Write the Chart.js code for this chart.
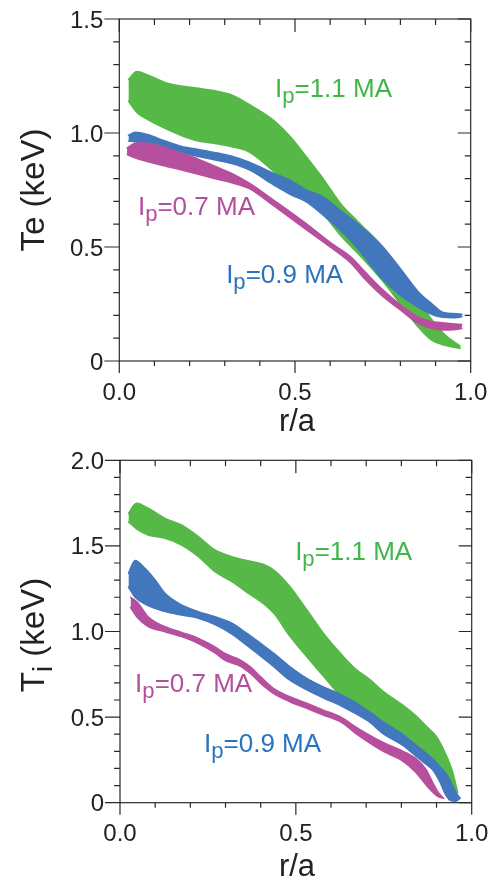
<!DOCTYPE html>
<html>
<head>
<meta charset="utf-8">
<script src="https://cdn.jsdelivr.net/npm/chart.js@4"></script>
<style>
  html, body { margin: 0; padding: 0; background: #fff; }
  #wrap { position: relative; width: 493px; height: 880px; }
  .panel { position: absolute; left: 0; width: 493px; height: 440px; }
</style>
</head>
<body>
<div id="wrap">
  <div class="panel" style="top:0"><canvas id="te" width="493" height="440"></canvas></div>
  <div class="panel" style="top:440px"><canvas id="ti" width="493" height="440"></canvas></div>
</div>
<script>
const GREEN = 'rgb(86, 185, 71)'
const BLUE = 'rgb(67, 119, 189)'
const MAGENTA = 'rgb(182, 80, 158)'

// Te bands (keV) vs r/a
const teR11 = [0.026, 0.05, 0.08, 0.13, 0.18, 0.225, 0.27, 0.32, 0.37, 0.44, 0.49, 0.53, 0.58, 0.63, 0.68, 0.75, 0.80, 0.85, 0.89, 0.93, 0.97]
const teHi11 = [1.235, 1.27, 1.255, 1.222, 1.205, 1.196, 1.186, 1.167, 1.125, 1.055, 0.978, 0.90, 0.80, 0.69, 0.61, 0.50, 0.39, 0.27, 0.18, 0.11, 0.065]
const teLo11 = [1.14, 1.09, 1.06, 1.02, 0.987, 0.965, 0.955, 0.94, 0.916, 0.83, 0.76, 0.71, 0.645, 0.55, 0.47, 0.35, 0.25, 0.15, 0.09, 0.068, 0.055]

const teR09 = [0.026, 0.045, 0.08, 0.13, 0.18, 0.225, 0.27, 0.32, 0.37, 0.44, 0.49, 0.53, 0.58, 0.63, 0.68, 0.75, 0.80, 0.85, 0.89, 0.92, 0.95, 0.975]
const teHi09 = [0.99, 1.003, 0.993, 0.965, 0.94, 0.928, 0.915, 0.898, 0.872, 0.823, 0.79, 0.752, 0.72, 0.66, 0.60, 0.50, 0.405, 0.305, 0.25, 0.214, 0.208, 0.205]
const teLo09 = [0.965, 0.962, 0.952, 0.93, 0.912, 0.897, 0.883, 0.866, 0.838, 0.772, 0.728, 0.70, 0.64, 0.572, 0.49, 0.357, 0.288, 0.236, 0.204, 0.192, 0.19, 0.194]

const teR07 = [0.022, 0.05, 0.08, 0.13, 0.18, 0.225, 0.27, 0.32, 0.37, 0.44, 0.53, 0.60, 0.66, 0.70, 0.75, 0.80, 0.85, 0.89, 0.94, 0.975]
const teHi07 = [0.935, 0.957, 0.955, 0.937, 0.91, 0.885, 0.855, 0.823, 0.78, 0.705, 0.605, 0.52, 0.455, 0.39, 0.312, 0.246, 0.193, 0.173, 0.165, 0.16]
const teLo07 = [0.905, 0.888, 0.875, 0.855, 0.837, 0.819, 0.80, 0.782, 0.756, 0.68, 0.578, 0.50, 0.428, 0.357, 0.283, 0.224, 0.165, 0.143, 0.136, 0.142]

// Ti bands (keV) vs r/a
const tiR11 = [0.024, 0.047, 0.08, 0.128, 0.175, 0.223, 0.27, 0.318, 0.36, 0.41, 0.44, 0.48, 0.53, 0.58, 0.63, 0.67, 0.71, 0.75, 0.80, 0.84, 0.87, 0.90, 0.925, 0.945, 0.96]
const tiHi11 = [1.69, 1.749, 1.72, 1.661, 1.622, 1.554, 1.476, 1.437, 1.415, 1.39, 1.355, 1.27, 1.13, 0.985, 0.865, 0.78, 0.72, 0.648, 0.576, 0.51, 0.448, 0.386, 0.289, 0.185, 0.06]
const tiLo11 = [1.64, 1.60, 1.564, 1.544, 1.505, 1.437, 1.349, 1.291, 1.23, 1.16, 1.10, 0.98, 0.855, 0.735, 0.62, 0.57, 0.52, 0.44, 0.38, 0.32, 0.26, 0.20, 0.13, 0.07, 0.03]

const tiR09 = [0.024, 0.043, 0.071, 0.10, 0.128, 0.175, 0.223, 0.27, 0.318, 0.36, 0.41, 0.44, 0.48, 0.53, 0.58, 0.63, 0.67, 0.71, 0.75, 0.80, 0.84, 0.87, 0.89, 0.91, 0.925, 0.94, 0.955, 0.967]
const tiHi09 = [1.34, 1.414, 1.369, 1.301, 1.223, 1.155, 1.116, 1.086, 1.048, 0.99, 0.915, 0.868, 0.80, 0.728, 0.675, 0.63, 0.585, 0.53, 0.47, 0.405, 0.34, 0.29, 0.255, 0.21, 0.175, 0.125, 0.06, 0.026]
const tiLo09 = [1.26, 1.20, 1.16, 1.135, 1.116, 1.096, 1.077, 1.04, 0.985, 0.92, 0.84, 0.79, 0.72, 0.66, 0.61, 0.565, 0.52, 0.47, 0.40, 0.34, 0.275, 0.225, 0.19, 0.12, 0.05, 0.012, 0.008, 0.026]

const tiR07 = [0.03, 0.05, 0.08, 0.128, 0.175, 0.223, 0.27, 0.30, 0.34, 0.37, 0.40, 0.436, 0.483, 0.531, 0.578, 0.626, 0.68, 0.75, 0.80, 0.84, 0.87, 0.89, 0.905, 0.92]
const tiHi07 = [1.20, 1.17, 1.086, 1.028, 0.995, 0.96, 0.91, 0.87, 0.836, 0.795, 0.735, 0.668, 0.619, 0.581, 0.541, 0.502, 0.43, 0.35, 0.305, 0.26, 0.195, 0.115, 0.06, 0.026]
const tiLo07 = [1.14, 1.08, 1.028, 0.999, 0.97, 0.93, 0.875, 0.83, 0.80, 0.756, 0.697, 0.639, 0.59, 0.551, 0.512, 0.473, 0.39, 0.298, 0.249, 0.18, 0.105, 0.06, 0.035, 0.026]

const FONT = '"Liberation Sans", Arial, Helvetica, sans-serif'
Chart.defaults.font.family = FONT

function pts(r, v) {
  return r.map((x, i) => ({x: x, y: v[i]}))
}

// upper edge fills down to the lower edge (next dataset)
function band(r, hi, lo, color) {
  const base = {
    borderColor: color,
    backgroundColor: color,
    borderWidth: 1.5,
    pointRadius: 0,
    cubicInterpolationMode: 'monotone',
    borderCapStyle: 'round',
    borderJoinStyle: 'round'
  }
  return [
    Object.assign({}, base, {data: pts(r, hi), fill: '+1'}),
    Object.assign({}, base, {data: pts(r, lo), fill: false})
  ]
}

function drawRich(ctx, parts, x, y, size, color, rot, align) {
  ctx.save()
  ctx.translate(x, y)
  if (rot) ctx.rotate(rot)
  ctx.fillStyle = color
  ctx.textBaseline = 'alphabetic'
  ctx.textAlign = 'left'
  let total = 0
  for (const p of parts) {
    ctx.font = (p.sub ? size * 0.85 : size) + 'px ' + FONT
    total += ctx.measureText(p.t).width
  }
  let cx = align === 'center' ? -total / 2 : align === 'right' ? -total : 0
  for (const p of parts) {
    ctx.font = (p.sub ? size * 0.85 : size) + 'px ' + FONT
    ctx.fillText(p.t, cx, p.sub ? size * 0.24 : 0)
    cx += ctx.measureText(p.t).width
  }
  ctx.restore()
}

// box, inner/outer ticks, tick labels, titles and curve labels
const frameTicks = {
  id: 'frameTicks',
  afterDraw(chart, args, o) {
    const ctx = chart.ctx, a = chart.chartArea
    const x = chart.scales.x, y = chart.scales.y
    ctx.save()
    ctx.strokeStyle = '#2a2a2a'
    ctx.lineWidth = 1.2
    ctx.strokeRect(a.left, a.top, a.right - a.left, a.bottom - a.top)
    ctx.beginPath()
    for (let i = 0; i <= 10; i++) {
      const px = x.getPixelForValue(i / 10), major = i % 5 === 0
      ctx.moveTo(px, a.bottom); ctx.lineTo(px, a.bottom + (major ? 12 : 5))
      ctx.moveTo(px, a.top); ctx.lineTo(px, a.top + (major ? 13 : 6))
    }
    const n = Math.round(y.max * 10)
    for (let i = 0; i <= n; i++) {
      const py = y.getPixelForValue(i / 10), major = i % 5 === 0
      ctx.moveTo(a.left, py); ctx.lineTo(a.left - (major ? 15 : 6), py)
      ctx.moveTo(a.right, py); ctx.lineTo(a.right - (major ? 13 : 6), py)
    }
    ctx.stroke()
    ctx.restore()

    for (const t of x.ticks) {
      drawRich(ctx, [{t: t.value.toFixed(1)}], x.getPixelForValue(t.value), a.bottom + o.xLabelDy, 24, '#222', 0, 'center')
    }
    for (const t of y.ticks) {
      const s = t.value === 0 ? '0' : t.value.toFixed(1)
      drawRich(ctx, [{t: s}], a.left - 16, y.getPixelForValue(t.value) + 8.5, 24, '#222', 0, 'right')
    }

    drawRich(ctx, o.yTitle, o.yTitleX, o.yTitleY, 33, '#222', -Math.PI / 2, 'center')
    drawRich(ctx, [{t: 'r/a'}], 297, o.xTitleY, 31, '#222', 0, 'center')
    for (const l of o.labels) {
      const parts = [{t: 'I'}, {t: 'p', sub: true}, {t: l.text}]
      drawRich(ctx, parts, x.getPixelForValue(l.r), y.getPixelForValue(l.v), 26, l.color, 0, 'left')
    }
  }
}

function makeChart(id, datasets, yMax, geo, extra) {
  return new Chart(document.getElementById(id), {
    type: 'line',
    data: {datasets: datasets},
    plugins: [frameTicks],
    options: {
      responsive: false,
      animation: false,
      layout: {padding: {top: geo.top, right: geo.right, left: 0, bottom: 0}},
      scales: {
        x: {
          type: 'linear', min: 0, max: 1,
          grid: {display: false, drawTicks: false},
          border: {display: false},
          afterFit: s => { s.height = geo.xh; s.paddingLeft = 0; s.paddingRight = 0 },
          ticks: {display: false, stepSize: 0.5}
        },
        y: {
          type: 'linear', min: 0, max: yMax,
          grid: {display: false, drawTicks: false},
          border: {display: false},
          afterFit: s => { s.width = geo.left; s.paddingTop = 0; s.paddingBottom = 0 },
          ticks: {display: false, stepSize: 0.5}
        }
      },
      plugins: {
        legend: {display: false},
        tooltip: {enabled: false},
        frameTicks: extra
      }
    }
  })
}

makeChart('te',
  [].concat(band(teR07, teHi07, teLo07, MAGENTA), band(teR09, teHi09, teLo09, BLUE), band(teR11, teHi11, teLo11, GREEN)),
  1.5,
  {top: 19, right: 22.3, left: 119.3, xh: 79},
  {
    yTitle: [{t: 'Te (keV)'}], yTitleX: 44, yTitleY: 190, xTitleY: 431, xLabelDy: 39,
    labels: [
      {text: '=1.1 MA', r: 0.443, v: 1.158, color: '#42b549'},
      {text: '=0.7 MA', r: 0.053, v: 0.640, color: '#b44f9e'},
      {text: '=0.9 MA', r: 0.304, v: 0.342, color: '#2b74bd'}
    ]
  })

makeChart('ti',
  [].concat(band(tiR07, tiHi07, tiLo07, MAGENTA), band(tiR09, tiHi09, tiLo09, BLUE), band(tiR11, tiHi11, tiLo11, GREEN)),
  2.0,
  {top: 20.3, right: 21.3, left: 120, xh: 77.3},
  {
    yTitle: [{t: 'T'}, {t: 'i', sub: true}, {t: ' (keV)'}], yTitleX: 44, yTitleY: 195, xTitleY: 436, xLabelDy: 38,
    labels: [
      {text: '=1.1 MA', r: 0.498, v: 1.418, color: '#42b549'},
      {text: '=0.7 MA', r: 0.043, v: 0.647, color: '#b44f9e'},
      {text: '=0.9 MA', r: 0.239, v: 0.296, color: '#2b74bd'}
    ]
  })
</script>
</body>
</html>
